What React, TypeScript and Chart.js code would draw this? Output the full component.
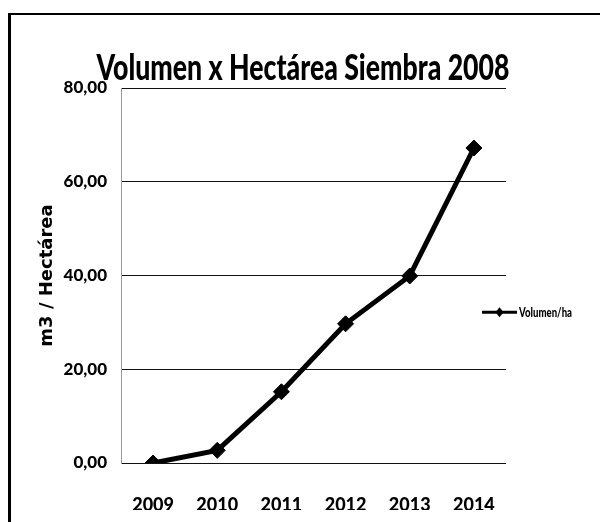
import React, { useEffect, useRef } from "react";
import { Chart, registerables } from "chart.js";

Chart.register(...registerables);

const TITLE = "Volumen x Hectárea Siembra 2008";
const Y_TITLE = "m3 / Hectárea";
const SERIES_LABEL = "Volumen/ha";
const CATEGORIES = ["2009", "2010", "2011", "2012", "2013", "2014"];
const VALUES = [0, 2.7, 15.2, 29.7, 39.9, 67.2];
const Y_MIN = 0;
const Y_MAX = 80;
const Y_STEP = 20;

const FONT = "Lato, 'Open Sans', sans-serif";

const titlePlugin = {
  id: "customTitle",
  afterDraw(chart: any) {
    const { ctx, chartArea } = chart;
    ctx.save();
    ctx.fillStyle = "#000";
    ctx.font = `900 36px ${FONT}`;
    ctx.textAlign = "center";
    ctx.textBaseline = "alphabetic";
    ctx.fillText(TITLE, chart.width / 2 + 3, chartArea.top - 8, 413);
    ctx.restore();
  },
};

const legendPlugin = {
  id: "customLegend",
  afterDraw(chart: any) {
    const { ctx, chartArea } = chart;
    const ds = chart.data.datasets[0];
    const x0 = chartArea.right - 24;
    const x1 = x0 + 35;
    const y = chartArea.top + (chartArea.bottom - chartArea.top) * 0.598;
    ctx.save();
    ctx.strokeStyle = "#000";
    ctx.lineWidth = 3;
    ctx.beginPath();
    ctx.moveTo(x0, y);
    ctx.lineTo(x1, y);
    ctx.stroke();
    const cx = (x0 + x1) / 2;
    ctx.fillStyle = "#000";
    ctx.beginPath();
    ctx.moveTo(cx, y - 5);
    ctx.lineTo(cx + 4, y);
    ctx.lineTo(cx, y + 5);
    ctx.lineTo(cx - 4, y);
    ctx.closePath();
    ctx.fill();
    ctx.font = `900 14px ${FONT}`;
    ctx.textAlign = "left";
    ctx.textBaseline = "middle";
    ctx.fillText(ds.label, x1 + 2, y, 53);
    ctx.restore();
  },
};

export default function App() {
  const ref = useRef<HTMLCanvasElement | null>(null);

  useEffect(() => {
    if (!ref.current) return;
    const chart = new Chart(ref.current, {
      type: "line",
      data: {
        labels: CATEGORIES,
        datasets: [
          {
            label: SERIES_LABEL,
            data: VALUES,
            borderColor: "#000",
            backgroundColor: "#000",
            borderWidth: 5,
            pointStyle: "rectRot",
            pointRadius: 8,
            pointBackgroundColor: "#000",
            pointBorderColor: "#000",
            pointBorderWidth: 1,
            tension: 0,
          },
        ],
      },
      options: {
        responsive: false,
        animation: false,
        devicePixelRatio: 1,
        layout: { padding: { left: 30, top: 88, right: 94, bottom: 12 } },
        plugins: {
          legend: { display: false },
          title: { display: false },
          tooltip: { enabled: false },
        },
        scales: {
          x: {
            offset: true,
            afterFit: (s: any) => {
              s.height = 47;
            },
            grid: { display: true, color: "transparent", drawTicks: false },
            border: { display: false },
            ticks: {
              color: "#000",
              padding: 31,
              font: { family: FONT, size: 18, weight: "900" },
            },
          },
          y: {
            min: Y_MIN,
            max: Y_MAX,
            afterFit: (s: any) => {
              s.width = 91;
            },
            ticks: {
              stepSize: Y_STEP,
              color: "#000",
              padding: 14,
              font: { family: FONT, size: 17, weight: "900" },
              callback: (v: any) => Number(v).toFixed(2).replace(".", ","),
            },
            grid: { color: "#111", lineWidth: 1, drawTicks: false },
            border: { display: true, color: "#999", width: 1 },
            title: {
              display: true,
              text: Y_TITLE,
              color: "#000",
              padding: { top: 7, bottom: 0 },
              font: { family: "'DejaVu Sans', sans-serif", size: 18, weight: "bold" },
            },
          },
        },
      },
      plugins: [titlePlugin, legendPlugin],
    });
    return () => chart.destroy();
  }, []);

  return (
    <div>
      <div
        style={{
          position: "fixed",
          left: 8,
          top: 13,
          width: 700,
          height: 700,
          borderLeft: "3px solid #000",
          borderTop: "2px solid #000",
          boxSizing: "border-box",
        }}
      />
      <canvas
        ref={ref}
        width={600}
        height={522}
        style={{ position: "fixed", left: 0, top: 0, width: 600, height: 522 }}
      />
    </div>
  );
}
